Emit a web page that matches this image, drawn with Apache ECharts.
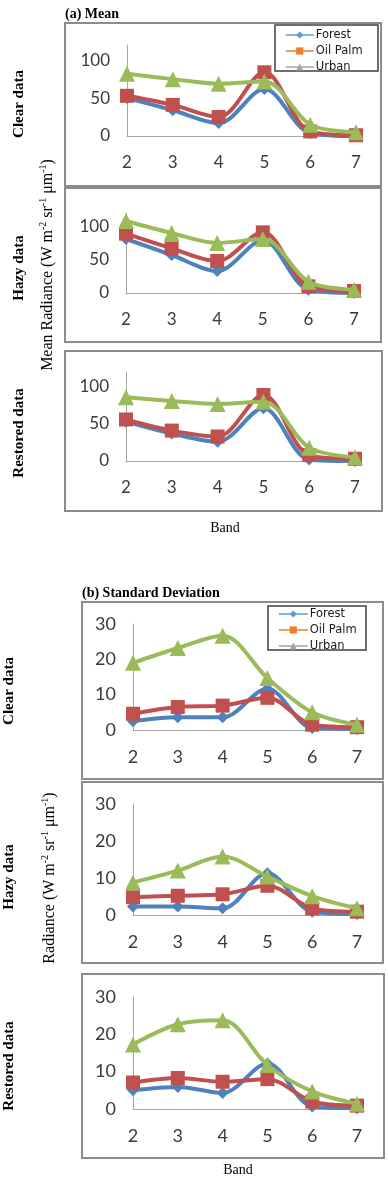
<!DOCTYPE html>
<html>
<head>
<meta charset="utf-8">
<script src="https://cdn.jsdelivr.net/npm/echarts@6/dist/echarts.min.js"></script>
<style>
html,body{margin:0;padding:0;background:#fff;}
#c{width:388px;height:1204px;}
</style>
</head>
<body>
<div id="c"></div>
<script>
// ---- data ----
const bands = ['2', '3', '4', '5', '6', '7'];
const seriesNames = ['Forest', 'Oil Palm', 'Urban'];
const meanTicks = [0, 50, 100];
const sdTicks = [0, 10, 20, 30];

const meanClearForest = [50, 34, 17, 62, 4, 0];
const meanClearOilPalm = [53, 41, 25, 84, 6, 1];
const meanClearUrban = [82, 75, 69, 72, 15, 5];

const meanHazyForest = [81, 57, 33, 79, 5, 0];
const meanHazyOilPalm = [89, 67, 48, 91, 10, 3];
const meanHazyUrban = [108, 90, 75, 81, 17, 5];

const meanRestoredForest = [53, 37, 26, 71, 2, 0];
const meanRestoredOilPalm = [56, 41, 33, 89, 8, 3];
const meanRestoredUrban = [86, 81, 77, 80, 18, 5];

const sdClearForest = [2.5, 3.6, 3.6, 11.7, 0.6, 0.3];
const sdClearOilPalm = [4.6, 6.5, 6.9, 9.1, 1.5, 0.8];
const sdClearUrban = [19, 23.2, 26.7, 14.7, 5, 1.5];

const sdHazyForest = [2.3, 2.3, 1.8, 11.3, 0.9, 0.3];
const sdHazyOilPalm = [4.8, 5.2, 5.6, 7.9, 1.8, 0.9];
const sdHazyUrban = [8.8, 12, 15.8, 10.4, 5.1, 1.8];

const sdRestoredForest = [5, 5.9, 4.3, 12.2, 0.7, 0.2];
const sdRestoredOilPalm = [7.1, 8.3, 7.3, 8, 2, 0.9];
const sdRestoredUrban = [17.3, 22.7, 23.8, 11.8, 4.7, 1.4];

// ---- styling / layout ----
const lineColors = ['#4F81BD', '#C0504D', '#9BBB59'];
const legendColors = ['#5B9BD5', '#ED7D31', '#A5A5A5'];
const symbols = ['diamond', 'rect', 'triangle'];
const symbolSizes = [12, 14, 16];

const panels = [
  {grid: {left: 127, top: 45, width: 229, height: 91}, max: 120, interval: 50, ticks: meanTicks, fs: 17,
   data: [meanClearForest, meanClearOilPalm, meanClearUrban]},
  {grid: {left: 126, top: 213, width: 228, height: 80}, max: 120, interval: 50, ticks: meanTicks, fs: 17,
   data: [meanHazyForest, meanHazyOilPalm, meanHazyUrban]},
  {grid: {left: 126, top: 372, width: 229, height: 89}, max: 120, interval: 50, ticks: meanTicks, fs: 17,
   data: [meanRestoredForest, meanRestoredOilPalm, meanRestoredUrban]},
  {grid: {left: 133, top: 624, width: 224, height: 106}, max: 30, interval: 10, ticks: sdTicks, fs: 18,
   data: [sdClearForest, sdClearOilPalm, sdClearUrban]},
  {grid: {left: 133, top: 804, width: 224, height: 111}, max: 30, interval: 10, ticks: sdTicks, fs: 18,
   data: [sdHazyForest, sdHazyOilPalm, sdHazyUrban]},
  {grid: {left: 133, top: 997, width: 224, height: 112}, max: 30, interval: 10, ticks: sdTicks, fs: 18,
   data: [sdRestoredForest, sdRestoredOilPalm, sdRestoredUrban]}
];

const axisColor = '#A6A6A6';
const labelColor = '#3a3a3a';
const grids = [], xAxes = [], yAxes = [], series = [];
panels.forEach((p, i) => {
  grids.push(Object.assign({containLabel: false}, p.grid));
  xAxes.push({
    type: 'category', gridIndex: i, data: bands, boundaryGap: false,
    axisLine: {show: true, lineStyle: {color: axisColor, width: 1}},
    axisTick: {show: false},
    axisLabel: {margin: 18, fontSize: p.fs, fontFamily: 'Lato', color: labelColor},
    splitLine: {show: false}
  });
  yAxes.push({
    type: 'value', gridIndex: i, min: 0, max: p.max, interval: p.interval,
    axisLine: {show: true, lineStyle: {color: axisColor, width: 1}},
    axisTick: {show: false},
    splitLine: {show: false},
    axisLabel: {
      margin: 17, fontSize: p.fs, fontFamily: 'Lato', color: labelColor,
      formatter: v => (p.ticks.indexOf(v) >= 0 ? String(v) : '')
    }
  });
  p.data.forEach((d, k) => {
    series.push({
      type: 'line', name: seriesNames[k], xAxisIndex: i, yAxisIndex: i,
      data: d, smooth: 0.33,
      symbol: symbols[k], symbolSize: symbolSizes[k],
      lineStyle: {color: lineColors[k], width: 4},
      itemStyle: {color: lineColors[k]},
      z: 2 + k
    });
  });
});

const legendData = seriesNames.map((n, k) => ({
  name: n,
  itemStyle: {color: legendColors[k]},
  lineStyle: {color: legendColors[k], width: 1.5}
}));
function mkLegend(left, top, w) {
  return {
    orient: 'vertical', left: left, top: top, padding: 0, z: 20,
    itemWidth: w, itemHeight: 9, itemGap: 4,
    data: legendData, selectedMode: false,
    textStyle: {fontFamily: 'DejaVu Sans', fontSize: 11.5, color: '#1a1a1a', lineHeight: 9, padding: [0, 0, 0, -3]}
  };
}

const serif = 'Liberation Serif';
function boxRect(x, y, w, h) {
  return {type: 'rect', shape: {x: x, y: y, width: w, height: h}, z: 0, silent: true,
    style: {fill: 'none', stroke: '#8C8C8C', lineWidth: 2}};
}
function legRect(x, y, w, h) {
  return {type: 'rect', shape: {x: x, y: y, width: w, height: h}, z: 10, silent: true,
    style: {fill: '#fff', stroke: '#404040', lineWidth: 1.5}};
}
function txt(t, x, y, size, bold, rot, align) {
  return {type: 'text', x: x, y: y, rotation: rot || 0, z: 10, silent: true,
    style: {text: t, font: (bold ? 'bold ' : '') + size + 'px "' + serif + '"', fill: '#000',
      align: align || 'center', verticalAlign: 'middle',
      textAlign: align || 'center', textVerticalAlign: 'middle'}};
}
function radLabel(prefix, x, y) {
  return {type: 'text', x: x, y: y, rotation: Math.PI / 2, z: 10, silent: true,
    style: {
      text: '{a|' + prefix + 'Radiance (W m}{s|-2}{a| sr}{s|-1}{a| \u03bcm}{s|-1}{a|)}',
      align: 'center', verticalAlign: 'middle', textAlign: 'center', textVerticalAlign: 'middle',
      rich: {
        a: {fontFamily: serif, fontSize: 16, color: '#000', lineHeight: 18, verticalAlign: 'bottom'},
        s: {fontFamily: serif, fontSize: 10, color: '#000', lineHeight: 18, verticalAlign: 'top'}
      }
    }};
}

const graphics = [
  boxRect(65, 23, 316, 163),
  boxRect(65, 188, 316, 154),
  boxRect(65, 351, 317, 160),
  boxRect(82, 602, 301, 177),
  boxRect(82, 782, 301, 181),
  boxRect(82, 974, 302, 184),
  legRect(275, 25, 103, 46),
  legRect(268, 606, 98, 44),
  txt('(a) Mean', 65, 14, 14, true, 0, 'left'),
  txt('(b) Standard Deviation', 82, 593, 14, true, 0, 'left'),
  txt('Clear data', 19, 104, 15, true, Math.PI / 2),
  txt('Hazy data', 19, 268, 15, true, Math.PI / 2),
  txt('Restored data', 19, 433, 15, true, Math.PI / 2),
  txt('Clear data', 9, 691, 15, true, Math.PI / 2),
  txt('Hazy data', 9, 877, 15, true, Math.PI / 2),
  txt('Restored data', 9, 1066, 15, true, Math.PI / 2),
  txt('Band', 225, 528, 14, false, 0),
  txt('Band', 238, 1170, 14, false, 0),
  radLabel('Mean ', 47, 265),
  radLabel('', 49, 878)
];

const chart = echarts.init(document.getElementById('c'), null, {renderer: 'canvas'});
chart.setOption({
  animation: false,
  backgroundColor: '#fff',
  grid: grids, xAxis: xAxes, yAxis: yAxes, series: series,
  legend: [mkLegend(285, 29, 28), mkLegend(278, 608, 29)],
  graphic: graphics
});
</script>
</body>
</html>
